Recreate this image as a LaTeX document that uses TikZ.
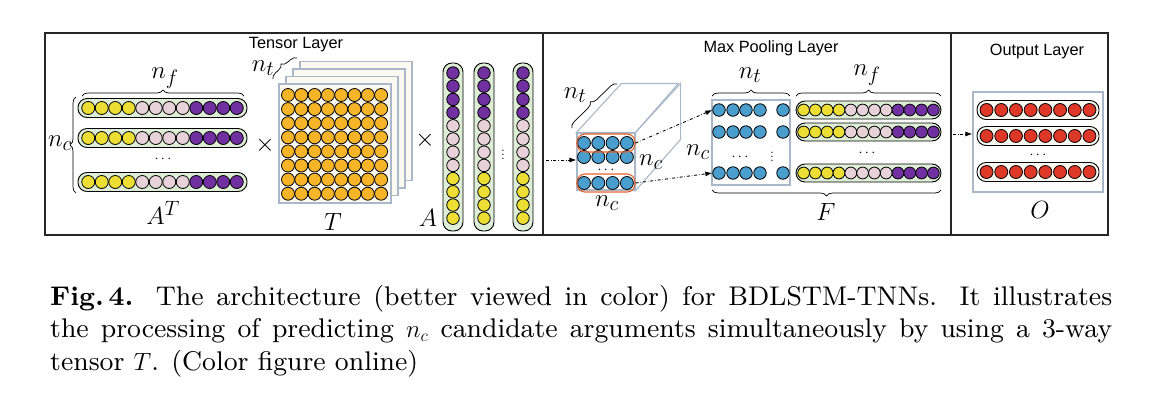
\documentclass[tikz,border=0pt]{standalone}
\usepackage{fontspec}
\newfontfamily\layerfont{Liberation Sans}
\newfontfamily\capfont{lmroman9-regular.otf}[BoldFont=lmroman9-bold.otf]
\usetikzlibrary{arrows.meta,decorations.pathreplacing,positioning}
\definecolor{yel}{RGB}{236,222,52}
\definecolor{pnk}{RGB}{232,210,218}
\definecolor{prp}{RGB}{112,48,160}
\definecolor{pillgreen}{RGB}{222,238,214}
\definecolor{org}{RGB}{246,180,40}
\definecolor{blu}{RGB}{74,158,206}
\definecolor{rd}{RGB}{222,56,40}
\definecolor{rimorange}{RGB}{232,98,44}
\definecolor{framegray}{RGB}{168,184,200}
\definecolor{cream}{RGB}{252,250,240}
\colorlet{band0}{yel}
\colorlet{band1}{pnk}
\colorlet{band2}{prp}
\tikzset{
  ball/.style={circle,draw=black,line width=0.8pt,inner sep=0pt,minimum size=13pt},
  pill/.style={draw=black,line width=0.9pt,fill=pillgreen,rounded corners=9pt,inner sep=0pt,minimum height=19pt},
  slab/.style={draw=framegray,line width=1.1pt,inner sep=0pt},
  rim/.style={draw=rimorange,line width=1.1pt,rounded corners=8pt,inner sep=0pt},
  brc/.style={decorate,decoration={brace,amplitude=6pt},line width=0.7pt},
  lbl/.style={font=\fontsize{28}{30}\selectfont,inner sep=0pt},
  dotlbl/.style={font=\fontsize{14}{16}\selectfont,inner sep=0pt},
  layertitle/.style={font=\layerfont\fontsize{16.3}{18}\selectfont,inner sep=0pt},
  flow/.style={dash dot,line width=0.9pt,-{Latex[length=7pt,width=5pt]}},
}
\begin{document}
\begin{tikzpicture}[x=1pt,y=-1pt]
\useasboundingbox (0,0) rectangle (1165,400);
\draw[line width=1.2pt,black!85] (45,33) rectangle (1108,235);
\draw[line width=1.2pt,black!85] (543,33) -- (543,235);
\draw[line width=1.2pt,black!85] (951,33) -- (951,235);
\node[layertitle] (ttensor) at (296,45) {Tensor Layer};
\node[layertitle] (tpool) at (771,48) {Max Pooling Layer};
\node[layertitle] (tout) at (1037,51) {Output Layer};

% A^T
\foreach \r/\y in {1/108,2/138,3/182}{
  \node[pill,minimum width=169pt] (atrow\r) at (162.5,\y) {};
  \foreach \i [evaluate=\i as \k using {int((\i-1)/4)}] in {1,...,12}
    \node[ball,fill=band\k] (at\r-\i) at ({162.5+(\i-6.5)*13.5},\y) {};
}
\node[dotlbl] (atdots) at (163,159) {$\cdots$};
\draw[brc] (82,96) -- (244,96);
\node[lbl] (nfa) at (165,78) {$n_f$};
\draw[brc] (76,193) -- (76,97);
\node[lbl] (nca) at (60,143) {$n_c$};
\node[lbl] (atlbl) at (163,213) {$A^T$};
\node[font=\fontsize{30}{32}\selectfont,inner sep=0pt] (times1) at (265,145) {$\times$};

% T
\foreach \k in {3,2,1}
  \node[slab,fill=cream,minimum width=112pt,minimum height=119pt] (slice\k) at ({335+7*\k},{143.5-7.5*\k}) {};
\node[slab,fill=cream,minimum width=112pt,minimum height=119pt] (slice0) at (335,143.5) {};
\foreach \i in {1,...,8}
  \foreach \j in {1,...,8}
    \node[ball,fill=org] (t\i-\j) at ({288+(\j-1)*13.3},{95+(\i-1)*14.1}) {};
\draw[brc] (273,79) -- (297,58);
\node[lbl] (ntt) at (263,68) {$n_t$};
\node[lbl] (tlbl) at (333,222) {$T$};
\node[font=\fontsize{30}{32}\selectfont,inner sep=0pt] (times2) at (425,140) {$\times$};

% A
\foreach \c/\x in {1/453,2/484,3/523}{
  \node[pill,minimum width=20pt,minimum height=168pt] (acol\c) at (\x,147) {};
  \foreach \i [evaluate=\i as \k using {int(2-int((\i-1)/4))}] in {1,...,12}
    \node[ball,fill=band\k,minimum size=12.5pt] (a\c-\i) at (\x,{73+(\i-1)*13.2}) {};
}
\node[dotlbl] (adots) at (503,152) {$\vdots$};
\node[lbl] (albl) at (428,218) {$A$};

% cube
\coordinate (inA) at (546,160);
\node[slab,fill=white,minimum width=58pt,minimum height=57pt] (cubefront) at (606,161.5) {};
\draw[slab,fill=white] (cubefront.north west) -- ++(45,-49) -- ++(57,0) -- (cubefront.north east) -- cycle;
\draw[slab,fill=white] (cubefront.north east) -- ++(45,-49) -- ++(0,56) -- (cubefront.south east) -- cycle;
\draw[flow] (inA) -- (inA -| cubefront.west);
\foreach \r/\y in {1/143,2/157,3/183}
  \foreach \j in {1,...,4}
    \node[ball,fill=blu] (cb\r-\j) at ({584+(\j-1)*14.3},\y) {};
\node[dotlbl] (cbdots) at (606,170) {$\cdots$};
\node[rim,minimum width=58pt,minimum height=18pt] (rimtop) at (606,143) {};
\node[rim,minimum width=58pt,minimum height=18pt] (rimbot) at (606,183) {};
\draw[brc] (572,128) -- (617,84);
\node[lbl] (ntc) at (575,95) {$n_t$};
\node[lbl] (ncb) at (607,203) {$n_c$};
\node[lbl] (ncs) at (651,162) {$n_c$};

% pooled matrix
\node[slab,minimum width=78pt,minimum height=85pt] (mbox) at (751,142.5) {};
\foreach \r/\y in {1/110,2/132,3/173}
  \foreach \c/\x in {1/719,2/733,3/746,4/760,5/783}
    \node[ball,fill=blu,minimum size=12.5pt] (m\r-\c) at (\x,\y) {};
\node[dotlbl] (mdots) at (740,157) {$\cdots$};
\node[dotlbl] (mvdots) at (772,154) {$\vdots$};
\draw[flow] (rimtop.east) -- (m1-1.west);
\draw[flow] (rimbot.east) -- (m3-1.west);
\draw[brc] (712,96) -- (790,96);
\node[lbl] (ntm) at (750,75) {$n_t$};
\node[lbl] (ncm) at (698,152) {$n_c$};

% F
\foreach \r/\y in {1/110,2/132,3/173}{
  \node[pill,minimum width=145pt,minimum height=18pt] (frow\r) at (868.5,\y) {};
  \foreach \i [evaluate=\i as \k using {int((\i-1)/4)}] in {1,...,12}
    \node[ball,fill=band\k,minimum size=11.8pt] (f\r-\i) at ({868.5+(\i-6.5)*11.8},\y) {};
}
\node[dotlbl] (fdots) at (867,153) {$\cdots$};
\draw[brc] (796,96) -- (941,96);
\node[lbl] (nff) at (867,75) {$n_f$};
\draw[brc] (941,190) -- (712,190);
\node[lbl] (flbl) at (826,212) {$F$};

% O
\coordinate (inO) at (953,134);
\node[slab,minimum width=130pt,minimum height=100pt] (obox) at (1038,142) {};
\draw[flow] (inO) -- (inO -| obox.west);
\foreach \r/\y in {1/110,2/136,3/172}{
  \node[pill,fill=cream,minimum width=122pt] (orow\r) at (1038,\y) {};
  \foreach \i in {1,...,8}
    \node[ball,fill=rd] (o\r-\i) at ({1038+(\i-4.5)*14.7},\y) {};
}
\node[dotlbl] (odots) at (1038,155) {$\cdots$};
\node[lbl] (olbl) at (1040,210) {$O$};

\node[anchor=base west,inner sep=0pt] (caption) at (50,305) {\parbox[t]{1062pt}{\capfont\fontsize{27}{32.5}\selectfont
\textbf{Fig.\,4.} The architecture (better viewed in color) for BDLSTM-TNNs. It illustrates\linebreak{} the processing of predicting $n_c$ candidate arguments simultaneously by using a 3-way\linebreak{} tensor $T$. (Color figure online)}};
\end{tikzpicture}
\end{document}
